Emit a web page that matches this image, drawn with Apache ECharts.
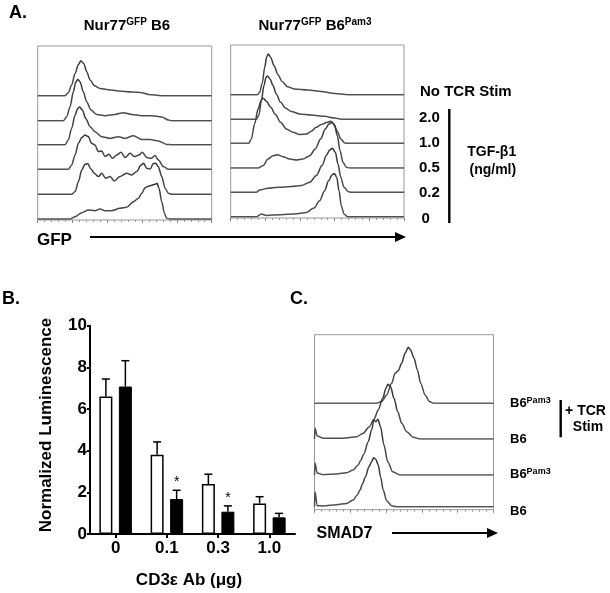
<!DOCTYPE html>
<html><head><meta charset="utf-8">
<script src="https://cdn.jsdelivr.net/npm/echarts/dist/echarts.min.js"></script>
<style>html,body{margin:0;padding:0;background:#fff}#c{width:610px;height:593px}</style>
</head><body><div id="c"></div>
<script>
// ===== Panel A, left: Nur77GFP B6  (x: % of GFP axis, y: relative cell count) =====
const aB6_noStim = [[0,0],[15.7,0],[17.6,3],[19.5,10.7],[21.5,22.3],[23.4,31.3],[24.9,35],[26.4,32.3],[28.2,24],[30.1,15.7],[32.6,10],[35.8,7.3],[40.6,6],[46.4,4.7],[54,3.7],[59.8,3],[63.6,1.3],[71.3,0],[100,0]];
const aB6_tgf2_0 = [[0,0],[14.8,0],[16.7,4],[18.6,14],[20.5,29],[21.8,38.3],[23,41.3],[24.3,39],[26.2,29],[28.1,19],[30.6,10.7],[33.9,6.3],[38.7,5],[44.4,6.3],[49.2,8],[54,6.3],[59.8,5],[65.5,5],[71.3,3.7],[75.1,0.7],[77,0],[100,0]];
const aB6_tgf1_0 = [[0,0],[15.7,0],[17.6,4.7],[19.5,16.3],[21.5,29.7],[23,36.3],[24.1,37.7],[25.7,34.7],[27.6,26.3],[30.1,18],[32.9,13],[36.8,8],[41.6,6.3],[46.4,8],[50.2,6.3],[55,9],[59.8,5.3],[64.6,5.3],[69.3,3.7],[74.1,0.3],[77,0],[100,0]];
const aB6_tgf0_5 = [[0,0],[17.6,0],[19.5,4.3],[21.5,14.3],[23.4,26],[25.3,31.7],[27.2,34.3],[29.1,32.7],[31,26],[32.9,24.3],[34.8,17.7],[36.8,18.3],[38.7,12.7],[41,15],[42.9,11],[45.4,14.3],[47.9,17],[50.2,11.7],[53.1,16],[55.6,12.7],[58.2,14.3],[60.1,17],[62.7,11.7],[65.2,11],[67.4,13.7],[69.4,9.3],[72.2,2.7],[75.1,0],[100,0]];
const aB6_tgf0_2 = [[0,0],[19.5,0],[21.5,2.7],[23.4,12.7],[25.3,24.3],[27.2,30],[28.7,30.7],[30.6,25.3],[32.5,21],[34.9,17.7],[36.8,21],[39.1,16],[41.6,17.7],[44.1,13.3],[47.3,17.7],[51.1,21],[54,19.3],[56.9,22.7],[59.4,29.3],[60.9,31],[62.6,26],[64.6,25.3],[66.5,30.7],[67.8,31],[69.3,27.7],[71.3,17.7],[73.2,6],[75.1,1],[77,0],[100,0]];
const aB6_tgf0 = [[0,0],[18.6,0],[21.5,2.3],[25.3,6.3],[29.1,9],[32.9,8.3],[35.8,10],[38.7,8.3],[42.5,8.3],[47.3,10.7],[51.1,11.7],[55,17.3],[57.9,20.7],[59.8,25.7],[61.7,31.3],[64.6,33.3],[67.4,34.7],[68.6,35.7],[69.7,30.7],[71.3,17.3],[72.8,5.7],[74.1,0.7],[76,0],[100,0]];

// ===== Panel A, right: Nur77GFP B6Pam3 =====
const aPam3_noStim = [[0,0],[15.4,0],[16.7,2.3],[18.3,12.3],[19.6,27.3],[20.8,38],[21.7,40.7],[23.1,37.3],[25,29],[27.3,20],[29.6,13.3],[32.7,8],[36.9,5.7],[44.6,4.7],[52.3,3.3],[60,1.3],[67.7,0],[100,0]];
const aPam3_tgf2_0 = [[0,0],[14.8,0],[16.2,3.7],[17.7,18.7],[19.2,33.7],[20.4,42],[21.3,43.3],[22.7,40.3],[24.4,33.7],[26.3,25.3],[28.8,17],[31.5,11.3],[35,7.7],[39.8,5.3],[46.5,4.3],[54.2,3],[60,1.3],[64.8,0],[100,0]];
const aPam3_tgf1_0 = [[0,0],[10.4,0],[11.9,4.3],[13.8,19.3],[15.8,34.3],[17.7,43.3],[18.8,45],[20.6,42],[23.1,36],[25.8,28.7],[28.8,21],[32.1,14.3],[35.9,11],[39.8,8.7],[43.7,9.3],[46.5,12],[49.4,16],[52.3,18.7],[55.2,20.7],[57.7,22],[59.6,19.3],[61.5,12],[63.5,4.3],[65.8,0.3],[67.7,0],[100,0]];
const aPam3_tgf0_5 = [[0,0],[15.8,0],[18.7,2.3],[21.5,9],[24.4,12.3],[26.9,13.3],[30.2,11.3],[34,9],[37.9,8],[41.7,9],[45.6,12.3],[48.8,19],[51.9,29],[54.6,39],[56.7,44],[58.5,45.7],[60,42.3],[61.5,32.3],[63.1,17.3],[64.8,5.7],[66.7,0.7],[68.7,0],[100,0]];
const aPam3_tgf0_2 = [[0,0],[14.8,0],[16.7,2.3],[21.5,4],[27.3,5],[35,5.7],[40.8,6.7],[45.6,10],[49.4,16.7],[52.7,26.7],[55.2,36.7],[57.1,42.3],[58.7,44],[60.4,40],[61.9,28.3],[63.5,15],[65.4,5],[67.7,0.7],[69.6,0],[100,0]];
const aPam3_tgf0 = [[0,0],[14.8,0],[17.7,2.7],[20.6,1.3],[29.2,2],[36.9,2.7],[43.7,4.3],[48.1,8.7],[51.3,16],[54.2,26],[56.5,36],[58.5,42],[59.8,43.3],[61.2,39.3],[62.5,26],[63.8,11],[65.4,2.7],[67.3,0],[100,0]];

// ===== Panel B: luciferase, normalized luminescence =====
const doses = ['0', '0.1', '0.3', '1.0'];
const b6Mean = [6.6, 3.8, 2.4, 1.47];
const b6ErrTop = [7.44, 4.42, 2.87, 1.79];
const pam3Mean = [7.08, 1.68, 1.07, 0.8];
const pam3ErrTop = [8.32, 2.1, 1.35, 0.99];
const pam3Sig = [0, 1, 1, 0];
const yTicks = [0, 2, 4, 6, 8, 10];

// ===== Panel C: SMAD7 histograms =====
const cPam3_tcr = [[0,0],[34.7,0],[37.5,1.7],[40.3,8.3],[43.1,20],[45,30],[46.8,32.7],[48.7,40],[50.6,50],[52.4,56],[53.7,53.3],[55.6,45],[57.5,33.3],[59.3,20],[61.8,8.3],[64.2,1.7],[66.4,0],[100,0]];
const cB6_tcr = [[0,0],[0.3,10.7],[1.5,3],[4.9,0.7],[16,0.7],[23.5,2.3],[27.2,5.7],[30.6,12.3],[33.2,19.7],[35.6,29],[38.1,40.7],[39.9,50.7],[41,54.7],[42.5,52.3],[44.4,40.7],[46.5,27.3],[48.7,15.7],[51.5,7.3],[55.2,1.7],[59,0],[100,0]];
const cPam3 = [[0,0],[0.3,11.7],[1.5,2],[4.9,0.3],[12.3,1],[17.9,2.3],[21.6,5],[24.4,10],[25.7,14.3],[27.6,21],[30,33.3],[31.9,45],[33.2,55],[34.3,53.3],[35.4,55.7],[36.9,48.3],[38.8,30],[40.9,13.3],[43.7,3.3],[47.8,0],[100,0]];
const cB6 = [[0,0],[0.3,15],[1.5,1],[4.9,0.7],[12.3,2],[17.9,3.3],[21.6,6.7],[23.9,11.7],[25.4,16.7],[26.9,23.3],[28.5,30],[30.4,40],[31.9,45],[33,49],[34.3,47.3],[35.6,41.7],[36.9,30],[38.4,16.7],[40.3,6],[43.1,1],[45.9,0],[100,0]];

// ---------------- layout / styles ----------------
const FF = '"Liberation Sans", Arial, Helvetica, sans-serif';
const grids = [], xAxes = [], yAxes = [], series = [];
const lineGrad = {type:'linear', x:0, y:0, x2:0, y2:1, colorStops:[
  {offset:0, color:'#333'}, {offset:0.95, color:'#505050'}, {offset:1, color:'#a8a8a8'}]};

function addFrame(f) {
  const gi = grids.length;
  grids.push({left:f.left, top:f.top, width:f.width, height:f.height, show:true,
    borderColor:'#999', borderWidth:1, backgroundColor:'rgba(0,0,0,0)', containLabel:false, outerBoundsMode:'none'});
  xAxes.push({gridIndex:gi, type:'value', min:0, max:100, interval:20, position:'bottom',
    axisLine:{show:false}, axisLabel:{show:false}, splitLine:{show:false},
    axisTick:{show:true, inside:false, length:3, lineStyle:{color:'#888', width:1}},
    minorTick:{show:true, splitNumber:5, length:2, lineStyle:{color:'#999', width:1}}});
  yAxes.push({gridIndex:gi, type:'value', show:false});
}
function addTraces(p, traces, H) {
  traces.forEach((d, i) => {
    const gi = grids.length;
    grids.push({left:p.left, top:p.baselines[i] - H, width:p.width, height:H, containLabel:false, outerBoundsMode:'none'});
    xAxes.push({gridIndex:gi, type:'value', min:0, max:100, show:false});
    yAxes.push({gridIndex:gi, type:'value', min:0, max:H, show:false});
    series.push({type:'line', xAxisIndex:gi, yAxisIndex:gi, data:d, showSymbol:false, symbol:'none',
      smooth:0.3, smoothMonotone:'x', clip:false, silent:true, z:3 + i,
      lineStyle:{width:1.5, color:lineGrad}});
  });
}

const frameA1 = {left:37.7, top:46, width:174, height:174};
const frameA2 = {left:230.7, top:45, width:173.3, height:173};
const frameC  = {left:314.5, top:334.7, width:179, height:175};
addFrame(frameA1); addFrame(frameA2); addFrame(frameC);
addTraces({left:37.7, width:174, baselines:[95.7,120.7,144.7,169.3,194.3,219]},
  [aB6_noStim, aB6_tgf2_0, aB6_tgf1_0, aB6_tgf0_5, aB6_tgf0_2, aB6_tgf0], 60);
addTraces({left:230.7, width:173.3, baselines:[94.7,119.3,143.3,168,192.3,216.7]},
  [aPam3_noStim, aPam3_tgf2_0, aPam3_tgf1_0, aPam3_tgf0_5, aPam3_tgf0_2, aPam3_tgf0], 60);
addTraces({left:314.5, width:179, baselines:[403.3,439,475,506.7]},
  [cPam3_tcr, cB6_tcr, cPam3, cB6], 70);

// ---- bar chart grid ----
const gB = grids.length;
grids.push({left:90, top:325.7, width:205, height:208.3, containLabel:false, outerBoundsMode:'none'});
xAxes.push({gridIndex:gB, type:'category', data:doses,
  axisLine:{show:true, lineStyle:{color:'#000', width:2}},
  axisTick:{show:true, alignWithLabel:true, length:4, lineStyle:{color:'#000', width:2}},
  axisLabel:{color:'#000', fontSize:17, fontWeight:'bold', fontFamily:FF, margin:6},
  splitLine:{show:false}});
yAxes.push({gridIndex:gB, type:'value', min:yTicks[0], max:yTicks[yTicks.length-1], interval:yTicks[1]-yTicks[0],
  axisLine:{show:true, lineStyle:{color:'#000', width:2}},
  axisTick:{show:true, length:3, lineStyle:{color:'#000', width:2}},
  axisLabel:{color:'#000', fontSize:17, fontWeight:'bold', fontFamily:FF, margin:3},
  splitLine:{show:false}});
series.push({type:'bar', name:'B6', xAxisIndex:gB, yAxisIndex:gB, data:b6Mean, barWidth:13, barGap:'50%',
  itemStyle:{color:'#fff', borderColor:'#000', borderWidth:1.5}, z:4});
series.push({type:'bar', name:'B6Pam3', xAxisIndex:gB, yAxisIndex:gB, data:pam3Mean, barWidth:13, barGap:'50%',
  itemStyle:{color:'#000', borderColor:'#000', borderWidth:1}, z:4});
function errSeries(means, tops, sig, off) {
  return {type:'custom', xAxisIndex:gB, yAxisIndex:gB, z:6, silent:true,
    data: means.map((m, i) => [i, m, tops[i], sig ? sig[i] : 0]),
    renderItem: (params, api) => {
      const t = api.coord([api.value(0), api.value(2)]);
      const b = api.coord([api.value(0), api.value(1)]);
      const x = t[0] + off;
      const ch = [
        {type:'line', shape:{x1:x, y1:b[1], x2:x, y2:t[1]}, style:{stroke:'#000', lineWidth:1.5}},
        {type:'line', shape:{x1:x-4, y1:t[1], x2:x+4, y2:t[1]}, style:{stroke:'#000', lineWidth:1.5}}
      ];
      if (api.value(3)) ch.push({type:'text', x:x, y:t[1]-1, style:{text:'*', fill:'#000',
        font:'14px ' + FF, align:'center', verticalAlign:'bottom', textAlign:'center', textVerticalAlign:'bottom'}});
      return {type:'group', children:ch};
    }};
}
series.push(errSeries(b6Mean, b6ErrTop, null, -9.75));
series.push(errSeries(pam3Mean, pam3ErrTop, pam3Sig, 9.75));

// ---- texts ----
function txt(s, x, y, size, align, extra) {
  return Object.assign({type:'text', x:x, y:y, silent:true, style:{text:s, fill:'#000',
    font:'bold ' + size + 'px ' + FF, align:align || 'left', verticalAlign:'middle',
    textAlign:align || 'left', textVerticalAlign:'middle'}}, extra || {});
}
function supTxt(base, sup, tail, x, y, size, supSize, align) {
  const t = '{b|' + base + '}{s|' + sup + '}' + (tail ? '{b|' + tail + '}' : '');
  return {type:'text', x:x, y:y, silent:true, style:{text:t, fill:'#000', font:'bold ' + size + 'px ' + FF,
    align:align, verticalAlign:'middle', textAlign:align, textVerticalAlign:'middle',
    rich:{b:{font:'bold ' + size + 'px ' + FF, fill:'#000', lineHeight:size + 1, verticalAlign:'bottom'},
          s:{font:'bold ' + supSize + 'px ' + FF, fill:'#000', verticalAlign:'top'}}}};
}
function supTxt2(base, sup, base2, sup2, x, y, size, supSize, align) {
  const t = '{b|' + base + '}{s|' + sup + '}{b|' + base2 + '}{s|' + sup2 + '}';
  return {type:'text', x:x, y:y, silent:true, style:{text:t, fill:'#000', font:'bold ' + size + 'px ' + FF,
    align:align, verticalAlign:'middle', textAlign:align, textVerticalAlign:'middle',
    rich:{b:{font:'bold ' + size + 'px ' + FF, fill:'#000', lineHeight:size + 1, verticalAlign:'bottom'},
          s:{font:'bold ' + supSize + 'px ' + FF, fill:'#000', verticalAlign:'top'}}}};
}
function vline(x, y1, y2, w) {
  return {type:'line', silent:true, shape:{x1:x, y1:y1, x2:x, y2:y2}, style:{stroke:'#000', lineWidth:w}};
}
function arrow(x1, x2, y) {
  return [{type:'line', silent:true, shape:{x1:x1, y1:y, x2:x2 - 6, y2:y}, style:{stroke:'#000', lineWidth:2.2}},
          {type:'polygon', silent:true, shape:{points:[[x2, y], [x2 - 11, y - 5], [x2 - 11, y + 5]]}, style:{fill:'#000'}}];
}

const graphics = [
  txt('A.', 9, 13, 18),
  supTxt('Nur77', 'GFP', ' B6', 127, 25, 15, 10, 'center'),
  supTxt2('Nur77', 'GFP', ' B6', 'Pam3', 315, 25, 15, 10, 'center'),
  txt('GFP', 37, 240, 17),
  ...arrow(90, 406, 237),
  txt('No TCR Stim', 420, 92, 15),
  txt('2.0', 419, 118.3, 15), txt('1.0', 419, 143.3, 15), txt('0.5', 419, 167.5, 15),
  txt('0.2', 419, 192.5, 15), txt('0', 421.5, 219, 15),
  vline(449.3, 109, 223, 2.4),
  txt('TGF-β1', 491.7, 151.7, 14, 'center'),
  txt('(ng/ml)', 492.8, 170.5, 14, 'center'),
  txt('B.', 2, 299, 18),
  txt('Normalized Luminescence', 46.5, 425, 17, 'center', {rotation: Math.PI / 2}),
  txt('CD3ε Ab (μg)', 189, 580, 17, 'center'),
  txt('C.', 290, 299, 18),
  txt('SMAD7', 316.5, 534, 16),
  ...arrow(392, 498, 533),
  supTxt('B6', 'Pam3', '', 510, 403.3, 13, 9, 'left'),
  txt('B6', 510, 439.3, 13),
  supTxt('B6', 'Pam3', '', 510, 474.3, 13, 9, 'left'),
  txt('B6', 510, 511.7, 13),
  vline(560.7, 400, 437.3, 2.4),
  txt('+ TCR', 585.5, 411, 14, 'center'),
  txt('Stim', 588, 427.3, 14, 'center')
];

const chart = echarts.init(document.getElementById('c'), null, {renderer:'canvas'});
chart.setOption({
  animation:false,
  backgroundColor:'#fff',
  textStyle:{fontFamily:FF},
  grid:grids, xAxis:xAxes, yAxis:yAxes, series:series,
  graphic:{elements:graphics}
});
</script>
</body></html>
